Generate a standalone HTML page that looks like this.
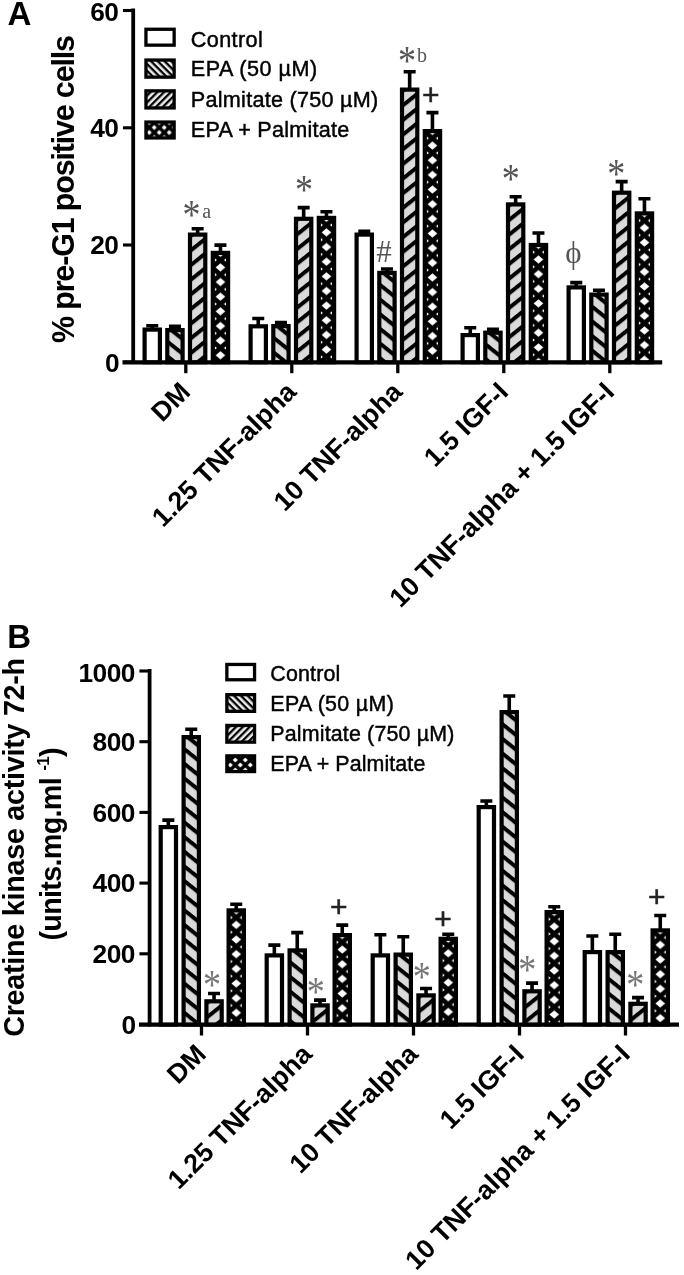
<!DOCTYPE html>
<html lang="en"><head><meta charset="utf-8"><title>Figure</title>
<style>html,body{margin:0;padding:0;background:#fff}body{width:684px;height:1275px;overflow:hidden}svg{display:block;filter:blur(0.7px)}</style>
</head><body>
<svg width="684" height="1275" viewBox="0 0 684 1275">
<defs>
<pattern id="hb" patternUnits="userSpaceOnUse" width="40" height="11.440" patternTransform="translate(9.75 5) rotate(38.660) translate(0 -2.0)"><rect width="40" height="11.440" fill="#dadada"/><rect width="40" height="4.0" fill="#000"/></pattern>
<pattern id="hf" patternUnits="userSpaceOnUse" width="40" height="11.440" patternTransform="translate(9.75 12.5) rotate(-38.660) translate(0 -2.0)"><rect width="40" height="11.440" fill="#dadada"/><rect width="40" height="4.0" fill="#000"/></pattern>
<pattern id="hx" patternUnits="userSpaceOnUse" width="18.312" height="14.650" x="0.594" y="9.275"><rect width="18.312" height="14.650" fill="#000"/><path d="M4.36 7.33L9.16 3.23L13.96 7.33L9.16 11.43ZM-5.70 0.00L0.00 -4.10L5.70 0.00L0.00 4.10ZM12.61 0.00L18.31 -4.10L24.01 0.00L18.31 4.10ZM-5.70 14.65L0.00 10.55L5.70 14.65L0.00 18.75ZM12.61 14.65L18.31 10.55L24.01 14.65L18.31 18.75Z" fill="#fff"/></pattern>
<pattern id="lbA" patternUnits="userSpaceOnUse" width="40" height="4.8" patternTransform="translate(149.25 132.5) rotate(45)"><rect width="40" height="4.8" fill="#ededed"/><rect width="40" height="2.3" fill="#000"/></pattern>
<pattern id="lfA" patternUnits="userSpaceOnUse" width="40" height="4.8" patternTransform="translate(149.25 132.5) rotate(-45)"><rect width="40" height="4.8" fill="#ededed"/><rect width="40" height="2.3" fill="#000"/></pattern>
<pattern id="lxA" patternUnits="userSpaceOnUse" width="10" height="10" x="149.25" y="132.5"><rect width="10" height="10" fill="#000"/><path d="M-2.5 0L0 -2.5L2.5 0L0 2.5ZM7.5 0L10 -2.5L12.5 0L10 2.5ZM-2.5 10L0 7.5L2.5 10L0 12.5ZM7.5 10L10 7.5L12.5 10L10 12.5ZM2.5 5L5 2.5L7.5 5L5 7.5Z" fill="#fff"/></pattern>
<pattern id="lbB" patternUnits="userSpaceOnUse" width="40" height="4.8" patternTransform="translate(230.3 765.0) rotate(45)"><rect width="40" height="4.8" fill="#ededed"/><rect width="40" height="2.3" fill="#000"/></pattern>
<pattern id="lfB" patternUnits="userSpaceOnUse" width="40" height="4.8" patternTransform="translate(230.3 765.0) rotate(-45)"><rect width="40" height="4.8" fill="#ededed"/><rect width="40" height="2.3" fill="#000"/></pattern>
<pattern id="lxB" patternUnits="userSpaceOnUse" width="10" height="10" x="230.3" y="765.0"><rect width="10" height="10" fill="#000"/><path d="M-2.5 0L0 -2.5L2.5 0L0 2.5ZM7.5 0L10 -2.5L12.5 0L10 2.5ZM-2.5 10L0 7.5L2.5 10L0 12.5ZM7.5 10L10 7.5L12.5 10L10 12.5ZM2.5 5L5 2.5L7.5 5L5 7.5Z" fill="#fff"/></pattern>
</defs>
<rect width="684" height="1275" fill="#fff"/>
<text x="7.6" y="25.2" font-family='"Liberation Sans", sans-serif' font-weight="700" font-size="33" fill="#000">A</text>
<text transform="translate(73.8 189) rotate(-90)" text-anchor="middle" textLength="308" lengthAdjust="spacing" font-family='"Liberation Sans", sans-serif' font-weight="700" font-size="30.5" fill="#000">% pre-G1 positive cells</text>
<g stroke="#000" stroke-width="3.8" fill="none" stroke-linecap="butt">
<path d="M133.2 8.60V364.10"/>
<path d="M122.5 362.3H662.2" stroke-width="4.2"/>
<path d="M123.00 10.50H133.2" stroke-width="3.1"/>
<path d="M123.00 127.80H133.2" stroke-width="3.1"/>
<path d="M123.00 245.00H133.2" stroke-width="3.1"/>
<path d="M123.00 362.20H133.2" stroke-width="3.1"/>
<path d="M185.80 362.2V373.20" stroke-width="3.3"/>
<path d="M291.80 362.2V373.20" stroke-width="3.3"/>
<path d="M397.80 362.2V373.20" stroke-width="3.3"/>
<path d="M503.80 362.2V373.20" stroke-width="3.3"/>
<path d="M609.80 362.2V373.20" stroke-width="3.3"/>
</g>
<g font-family='"Liberation Sans", sans-serif' font-weight="700" font-size="26.3" letter-spacing="-0.6" text-anchor="end" fill="#000">
<text x="118.30" y="21.40">60</text>
<text x="118.30" y="137.10">40</text>
<text x="118.30" y="254.30">20</text>
<text x="119.10" y="371.50">0</text>
</g>
<g transform="translate(142.50 327.50)"><path d="M9.75 2.10V-1.70M3.75 -1.70H15.75" stroke="#000" stroke-width="3.6" fill="none"/><rect x="2.10" y="2.10" width="15.30" height="32.60" fill="#fff" stroke="#000" stroke-width="4.2"/></g>
<g transform="translate(165.20 328.00)"><path d="M9.75 2.10V-1.60M3.75 -1.60H15.75" stroke="#000" stroke-width="3.6" fill="none"/><rect x="2.10" y="2.10" width="15.30" height="32.10" fill="url(#hb)" stroke="#000" stroke-width="4.2"/></g>
<g transform="translate(187.90 232.50)"><path d="M9.75 2.10V-3.70M3.75 -3.70H15.75" stroke="#000" stroke-width="3.6" fill="none"/><rect x="2.10" y="2.10" width="15.30" height="127.60" fill="url(#hf)" stroke="#000" stroke-width="4.2"/></g>
<g transform="translate(210.70 250.80)"><path d="M9.75 2.10V-5.70M3.75 -5.70H15.75" stroke="#000" stroke-width="3.6" fill="none"/><rect x="2.10" y="2.10" width="15.30" height="109.30" fill="url(#hx)" stroke="#000" stroke-width="4.2"/></g>
<g transform="translate(248.50 324.20)"><path d="M9.75 2.10V-5.70M3.75 -5.70H15.75" stroke="#000" stroke-width="3.6" fill="none"/><rect x="2.10" y="2.10" width="15.30" height="35.90" fill="#fff" stroke="#000" stroke-width="4.2"/></g>
<g transform="translate(271.20 324.00)"><path d="M9.75 2.10V-1.40M3.75 -1.40H15.75" stroke="#000" stroke-width="3.6" fill="none"/><rect x="2.10" y="2.10" width="15.30" height="36.10" fill="url(#hb)" stroke="#000" stroke-width="4.2"/></g>
<g transform="translate(293.90 216.70)"><path d="M9.75 2.10V-9.10M3.75 -9.10H15.75" stroke="#000" stroke-width="3.6" fill="none"/><rect x="2.10" y="2.10" width="15.30" height="143.40" fill="url(#hf)" stroke="#000" stroke-width="4.2"/></g>
<g transform="translate(316.70 215.80)"><path d="M9.75 2.10V-4.00M3.75 -4.00H15.75" stroke="#000" stroke-width="3.6" fill="none"/><rect x="2.10" y="2.10" width="15.30" height="144.30" fill="url(#hx)" stroke="#000" stroke-width="4.2"/></g>
<g transform="translate(354.50 232.50)"><path d="M9.75 2.10V-1.10M3.75 -1.10H15.75" stroke="#000" stroke-width="3.6" fill="none"/><rect x="2.10" y="2.10" width="15.30" height="127.60" fill="#fff" stroke="#000" stroke-width="4.2"/></g>
<g transform="translate(377.20 270.80)"><path d="M9.75 2.10V-1.80M3.75 -1.80H15.75" stroke="#000" stroke-width="3.6" fill="none"/><rect x="2.10" y="2.10" width="15.30" height="89.30" fill="url(#hb)" stroke="#000" stroke-width="4.2"/></g>
<g transform="translate(399.90 87.50)"><path d="M9.75 2.10V-15.70M3.75 -15.70H15.75" stroke="#000" stroke-width="3.6" fill="none"/><rect x="2.10" y="2.10" width="15.30" height="272.60" fill="url(#hf)" stroke="#000" stroke-width="4.2"/></g>
<g transform="translate(422.70 129.00)"><path d="M9.75 2.10V-16.40M3.75 -16.40H15.75" stroke="#000" stroke-width="3.6" fill="none"/><rect x="2.10" y="2.10" width="15.30" height="231.10" fill="url(#hx)" stroke="#000" stroke-width="4.2"/></g>
<g transform="translate(460.50 333.00)"><path d="M9.75 2.10V-5.30M3.75 -5.30H15.75" stroke="#000" stroke-width="3.6" fill="none"/><rect x="2.10" y="2.10" width="15.30" height="27.10" fill="#fff" stroke="#000" stroke-width="4.2"/></g>
<g transform="translate(483.20 330.60)"><path d="M9.75 2.10V-1.40M3.75 -1.40H15.75" stroke="#000" stroke-width="3.6" fill="none"/><rect x="2.10" y="2.10" width="15.30" height="29.50" fill="url(#hb)" stroke="#000" stroke-width="4.2"/></g>
<g transform="translate(505.90 202.30)"><path d="M9.75 2.10V-5.50M3.75 -5.50H15.75" stroke="#000" stroke-width="3.6" fill="none"/><rect x="2.10" y="2.10" width="15.30" height="157.80" fill="url(#hf)" stroke="#000" stroke-width="4.2"/></g>
<g transform="translate(528.70 242.90)"><path d="M9.75 2.10V-9.90M3.75 -9.90H15.75" stroke="#000" stroke-width="3.6" fill="none"/><rect x="2.10" y="2.10" width="15.30" height="117.20" fill="url(#hx)" stroke="#000" stroke-width="4.2"/></g>
<g transform="translate(566.50 285.30)"><path d="M9.75 2.10V-2.70M3.75 -2.70H15.75" stroke="#000" stroke-width="3.6" fill="none"/><rect x="2.10" y="2.10" width="15.30" height="74.80" fill="#fff" stroke="#000" stroke-width="4.2"/></g>
<g transform="translate(589.20 292.50)"><path d="M9.75 2.10V-2.30M3.75 -2.30H15.75" stroke="#000" stroke-width="3.6" fill="none"/><rect x="2.10" y="2.10" width="15.30" height="67.60" fill="url(#hb)" stroke="#000" stroke-width="4.2"/></g>
<g transform="translate(611.90 190.60)"><path d="M9.75 2.10V-9.00M3.75 -9.00H15.75" stroke="#000" stroke-width="3.6" fill="none"/><rect x="2.10" y="2.10" width="15.30" height="169.50" fill="url(#hf)" stroke="#000" stroke-width="4.2"/></g>
<g transform="translate(634.70 211.30)"><path d="M9.75 2.10V-12.60M3.75 -12.60H15.75" stroke="#000" stroke-width="3.6" fill="none"/><rect x="2.10" y="2.10" width="15.30" height="148.80" fill="url(#hx)" stroke="#000" stroke-width="4.2"/></g>
<g font-family='"Liberation Sans", sans-serif' font-weight="700" font-size="26.8" text-anchor="end" fill="#000">
<text transform="translate(191.80 393.50) rotate(-45)">DM</text>
<text transform="translate(297.80 393.50) rotate(-45)">1.25 TNF-alpha</text>
<text transform="translate(403.80 393.50) rotate(-45)">10 TNF-alpha</text>
<text transform="translate(509.80 393.50) rotate(-45)">1.5 IGF-I</text>
<text transform="translate(615.80 393.50) rotate(-45)">10 TNF-alpha + 1.5 IGF-I</text>
</g>
<rect x="145.95" y="29.25" width="28.20" height="15.90" fill="#fff" stroke="#000" stroke-width="3.3"/>
<text x="190.8" y="46.80" textLength="72" lengthAdjust="spacing" font-family='"Liberation Sans", sans-serif' font-size="21.6" fill="#000" stroke="#000" stroke-width="0.45">Control</text>
<rect x="145.95" y="60.05" width="28.20" height="17.10" fill="url(#lbA)" stroke="#000" stroke-width="3.3"/>
<text x="190.8" y="76.30" textLength="126.5" lengthAdjust="spacing" font-family='"Liberation Sans", sans-serif' font-size="21.6" fill="#000" stroke="#000" stroke-width="0.45">EPA (50 µM)</text>
<rect x="145.95" y="90.85" width="28.20" height="17.10" fill="url(#lfA)" stroke="#000" stroke-width="3.3"/>
<text x="190.8" y="107.20" textLength="187.5" lengthAdjust="spacing" font-family='"Liberation Sans", sans-serif' font-size="21.6" fill="#000" stroke="#000" stroke-width="0.45">Palmitate (750 µM)</text>
<rect x="145.95" y="122.05" width="28.20" height="15.90" fill="url(#lxA)" stroke="#000" stroke-width="3.3"/>
<text x="190.8" y="137.20" textLength="158.5" lengthAdjust="spacing" font-family='"Liberation Sans", sans-serif' font-size="21.6" fill="#000" stroke="#000" stroke-width="0.45">EPA + Palmitate</text>
<text transform="translate(191.50 208.60) scale(1 1.16)" y="18.00" font-family='"Liberation Serif", serif' font-size="36" fill="#555" text-anchor="middle">*</text>
<text x="206.70" y="217.50" font-family='"Liberation Serif", serif' font-size="20" fill="#555" text-anchor="middle">a</text>
<text transform="translate(304.00 183.30) scale(1 1.16)" y="18.00" font-family='"Liberation Serif", serif' font-size="36" fill="#555" text-anchor="middle">*</text>
<text transform="translate(407.00 53.80) scale(1 1.16)" y="18.00" font-family='"Liberation Serif", serif' font-size="36" fill="#555" text-anchor="middle">*</text>
<text x="422.00" y="62.30" font-family='"Liberation Serif", serif' font-size="20" fill="#555" text-anchor="middle">b</text>
<text x="430.80" y="105.30" font-family='"Liberation Sans", sans-serif' font-size="30" fill="#222" text-anchor="middle" stroke="#222" stroke-width="0.5">+</text>
<text x="384.00" y="262.30" font-family='"Liberation Serif", serif' font-size="31" fill="#555" text-anchor="middle">#</text>
<text transform="translate(510.70 172.10) scale(1 1.16)" y="18.00" font-family='"Liberation Serif", serif' font-size="36" fill="#555" text-anchor="middle">*</text>
<text transform="translate(616.20 167.20) scale(1 1.16)" y="18.00" font-family='"Liberation Serif", serif' font-size="36" fill="#555" text-anchor="middle">*</text>
<text x="573.30" y="262.50" font-family='"Liberation Serif", serif' font-size="31" fill="#555" text-anchor="middle">ϕ</text>
<text x="7.2" y="647.7" font-family='"Liberation Sans", sans-serif' font-weight="700" font-size="33" fill="#000">B</text>
<text transform="translate(24.1 847.3) rotate(-90)" text-anchor="middle" textLength="379" lengthAdjust="spacing" font-family='"Liberation Sans", sans-serif' font-weight="700" font-size="28.8" fill="#000">Creatine kinase activity 72-h</text>
<text transform="translate(60.6 844.0) rotate(-90)" text-anchor="middle" textLength="193" lengthAdjust="spacing" font-family='"Liberation Sans", sans-serif' font-weight="700" font-size="28.8" fill="#000">(units.mg.ml <tspan font-size="17" dy="-12">-1</tspan><tspan dy="12">)</tspan></text>
<g stroke="#000" stroke-width="3.8" fill="none" stroke-linecap="butt">
<path d="M149.6 669.10V1026.40"/>
<path d="M139.0 1024.6H679.0" stroke-width="4.2"/>
<path d="M139.40 671.00H149.6" stroke-width="3.1"/>
<path d="M139.40 741.70H149.6" stroke-width="3.1"/>
<path d="M139.40 812.40H149.6" stroke-width="3.1"/>
<path d="M139.40 883.10H149.6" stroke-width="3.1"/>
<path d="M139.40 953.80H149.6" stroke-width="3.1"/>
<path d="M139.40 1024.50H149.6" stroke-width="3.1"/>
<path d="M201.50 1024.5V1035.50" stroke-width="3.3"/>
<path d="M307.50 1024.5V1035.50" stroke-width="3.3"/>
<path d="M413.50 1024.5V1035.50" stroke-width="3.3"/>
<path d="M519.50 1024.5V1035.50" stroke-width="3.3"/>
<path d="M625.50 1024.5V1035.50" stroke-width="3.3"/>
</g>
<g font-family='"Liberation Sans", sans-serif' font-weight="700" font-size="26.3" letter-spacing="-0.6" text-anchor="end" fill="#000">
<text x="134.70" y="681.90">1000</text>
<text x="134.70" y="751.00">800</text>
<text x="134.70" y="821.70">600</text>
<text x="134.70" y="892.40">400</text>
<text x="134.70" y="963.10">200</text>
<text x="135.50" y="1033.80">0</text>
</g>
<g transform="translate(158.60 825.00)"><path d="M9.75 2.10V-4.90M3.75 -4.90H15.75" stroke="#000" stroke-width="3.6" fill="none"/><rect x="2.10" y="2.10" width="15.30" height="197.40" fill="#fff" stroke="#000" stroke-width="4.2"/></g>
<g transform="translate(181.50 735.00)"><path d="M9.75 2.10V-5.70M3.75 -5.70H15.75" stroke="#000" stroke-width="3.6" fill="none"/><rect x="2.10" y="2.10" width="15.30" height="287.40" fill="url(#hb)" stroke="#000" stroke-width="4.2"/></g>
<g transform="translate(204.30 999.20)"><path d="M9.75 2.10V-5.70M3.75 -5.70H15.75" stroke="#000" stroke-width="3.6" fill="none"/><rect x="2.10" y="2.10" width="15.30" height="23.20" fill="url(#hf)" stroke="#000" stroke-width="4.2"/></g>
<g transform="translate(226.50 908.30)"><path d="M9.75 2.10V-4.00M3.75 -4.00H15.75" stroke="#000" stroke-width="3.6" fill="none"/><rect x="2.10" y="2.10" width="15.30" height="114.10" fill="url(#hx)" stroke="#000" stroke-width="4.2"/></g>
<g transform="translate(264.60 953.30)"><path d="M9.75 2.10V-8.20M3.75 -8.20H15.75" stroke="#000" stroke-width="3.6" fill="none"/><rect x="2.10" y="2.10" width="15.30" height="69.10" fill="#fff" stroke="#000" stroke-width="4.2"/></g>
<g transform="translate(287.50 948.30)"><path d="M9.75 2.10V-15.70M3.75 -15.70H15.75" stroke="#000" stroke-width="3.6" fill="none"/><rect x="2.10" y="2.10" width="15.30" height="74.10" fill="url(#hb)" stroke="#000" stroke-width="4.2"/></g>
<g transform="translate(310.30 1003.30)"><path d="M9.75 2.10V-3.20M3.75 -3.20H15.75" stroke="#000" stroke-width="3.6" fill="none"/><rect x="2.10" y="2.10" width="15.30" height="19.10" fill="url(#hf)" stroke="#000" stroke-width="4.2"/></g>
<g transform="translate(332.50 933.00)"><path d="M9.75 2.10V-7.90M3.75 -7.90H15.75" stroke="#000" stroke-width="3.6" fill="none"/><rect x="2.10" y="2.10" width="15.30" height="89.40" fill="url(#hx)" stroke="#000" stroke-width="4.2"/></g>
<g transform="translate(370.60 953.30)"><path d="M9.75 2.10V-18.50M3.75 -18.50H15.75" stroke="#000" stroke-width="3.6" fill="none"/><rect x="2.10" y="2.10" width="15.30" height="69.10" fill="#fff" stroke="#000" stroke-width="4.2"/></g>
<g transform="translate(393.50 952.50)"><path d="M9.75 2.10V-15.70M3.75 -15.70H15.75" stroke="#000" stroke-width="3.6" fill="none"/><rect x="2.10" y="2.10" width="15.30" height="69.90" fill="url(#hb)" stroke="#000" stroke-width="4.2"/></g>
<g transform="translate(416.30 993.30)"><path d="M9.75 2.10V-4.80M3.75 -4.80H15.75" stroke="#000" stroke-width="3.6" fill="none"/><rect x="2.10" y="2.10" width="15.30" height="29.10" fill="url(#hf)" stroke="#000" stroke-width="4.2"/></g>
<g transform="translate(438.50 936.70)"><path d="M9.75 2.10V-2.40M3.75 -2.40H15.75" stroke="#000" stroke-width="3.6" fill="none"/><rect x="2.10" y="2.10" width="15.30" height="85.70" fill="url(#hx)" stroke="#000" stroke-width="4.2"/></g>
<g transform="translate(476.60 805.00)"><path d="M9.75 2.10V-4.00M3.75 -4.00H15.75" stroke="#000" stroke-width="3.6" fill="none"/><rect x="2.10" y="2.10" width="15.30" height="217.40" fill="#fff" stroke="#000" stroke-width="4.2"/></g>
<g transform="translate(499.50 710.00)"><path d="M9.75 2.10V-14.00M3.75 -14.00H15.75" stroke="#000" stroke-width="3.6" fill="none"/><rect x="2.10" y="2.10" width="15.30" height="312.40" fill="url(#hb)" stroke="#000" stroke-width="4.2"/></g>
<g transform="translate(522.30 989.20)"><path d="M9.75 2.10V-6.10M3.75 -6.10H15.75" stroke="#000" stroke-width="3.6" fill="none"/><rect x="2.10" y="2.10" width="15.30" height="33.20" fill="url(#hf)" stroke="#000" stroke-width="4.2"/></g>
<g transform="translate(544.50 910.00)"><path d="M9.75 2.10V-3.20M3.75 -3.20H15.75" stroke="#000" stroke-width="3.6" fill="none"/><rect x="2.10" y="2.10" width="15.30" height="112.40" fill="url(#hx)" stroke="#000" stroke-width="4.2"/></g>
<g transform="translate(582.60 950.00)"><path d="M9.75 2.10V-14.00M3.75 -14.00H15.75" stroke="#000" stroke-width="3.6" fill="none"/><rect x="2.10" y="2.10" width="15.30" height="72.40" fill="#fff" stroke="#000" stroke-width="4.2"/></g>
<g transform="translate(605.50 950.00)"><path d="M9.75 2.10V-15.70M3.75 -15.70H15.75" stroke="#000" stroke-width="3.6" fill="none"/><rect x="2.10" y="2.10" width="15.30" height="72.40" fill="url(#hb)" stroke="#000" stroke-width="4.2"/></g>
<g transform="translate(628.30 1001.70)"><path d="M9.75 2.10V-4.10M3.75 -4.10H15.75" stroke="#000" stroke-width="3.6" fill="none"/><rect x="2.10" y="2.10" width="15.30" height="20.70" fill="url(#hf)" stroke="#000" stroke-width="4.2"/></g>
<g transform="translate(650.50 928.30)"><path d="M9.75 2.10V-12.80M3.75 -12.80H15.75" stroke="#000" stroke-width="3.6" fill="none"/><rect x="2.10" y="2.10" width="15.30" height="94.10" fill="url(#hx)" stroke="#000" stroke-width="4.2"/></g>
<g font-family='"Liberation Sans", sans-serif' font-weight="700" font-size="26.8" text-anchor="end" fill="#000">
<text transform="translate(207.50 1055.80) rotate(-45)">DM</text>
<text transform="translate(313.50 1055.80) rotate(-45)">1.25 TNF-alpha</text>
<text transform="translate(419.50 1055.80) rotate(-45)">10 TNF-alpha</text>
<text transform="translate(525.50 1055.80) rotate(-45)">1.5 IGF-I</text>
<text transform="translate(631.50 1055.80) rotate(-45)">10 TNF-alpha + 1.5 IGF-I</text>
</g>
<rect x="226.85" y="664.45" width="27.70" height="15.30" fill="#fff" stroke="#000" stroke-width="3.3"/>
<text x="270.3" y="681.40" textLength="70" lengthAdjust="spacing" font-family='"Liberation Sans", sans-serif' font-size="21.4" fill="#000" stroke="#000" stroke-width="0.45">Control</text>
<rect x="226.85" y="694.65" width="27.70" height="16.70" fill="url(#lbB)" stroke="#000" stroke-width="3.3"/>
<text x="270.3" y="711.00" textLength="123.5" lengthAdjust="spacing" font-family='"Liberation Sans", sans-serif' font-size="21.4" fill="#000" stroke="#000" stroke-width="0.45">EPA (50 µM)</text>
<rect x="226.85" y="725.45" width="27.70" height="16.70" fill="url(#lfB)" stroke="#000" stroke-width="3.3"/>
<text x="270.3" y="740.60" textLength="184" lengthAdjust="spacing" font-family='"Liberation Sans", sans-serif' font-size="21.4" fill="#000" stroke="#000" stroke-width="0.45">Palmitate (750 µM)</text>
<rect x="226.85" y="755.85" width="27.70" height="15.70" fill="url(#lxB)" stroke="#000" stroke-width="3.3"/>
<text x="270.3" y="770.60" textLength="155" lengthAdjust="spacing" font-family='"Liberation Sans", sans-serif' font-size="21.4" fill="#000" stroke="#000" stroke-width="0.45">EPA + Palmitate</text>
<text transform="translate(212.00 977.90) scale(1 1.16)" y="18.00" font-family='"Liberation Serif", serif' font-size="36" fill="#777" text-anchor="middle">*</text>
<text transform="translate(315.80 985.40) scale(1 1.16)" y="18.00" font-family='"Liberation Serif", serif' font-size="36" fill="#777" text-anchor="middle">*</text>
<text x="338.70" y="916.80" font-family='"Liberation Sans", sans-serif' font-size="30" fill="#222" text-anchor="middle" stroke="#222" stroke-width="0.5">+</text>
<text transform="translate(421.80 970.60) scale(1 1.16)" y="18.00" font-family='"Liberation Serif", serif' font-size="36" fill="#777" text-anchor="middle">*</text>
<text x="443.00" y="929.10" font-family='"Liberation Sans", sans-serif' font-size="30" fill="#222" text-anchor="middle" stroke="#222" stroke-width="0.5">+</text>
<text transform="translate(527.20 963.40) scale(1 1.16)" y="18.00" font-family='"Liberation Serif", serif' font-size="36" fill="#777" text-anchor="middle">*</text>
<text transform="translate(635.20 977.90) scale(1 1.16)" y="18.00" font-family='"Liberation Serif", serif' font-size="36" fill="#777" text-anchor="middle">*</text>
<text x="656.70" y="907.20" font-family='"Liberation Sans", sans-serif' font-size="30" fill="#222" text-anchor="middle" stroke="#222" stroke-width="0.5">+</text>
</svg>
</body></html>
